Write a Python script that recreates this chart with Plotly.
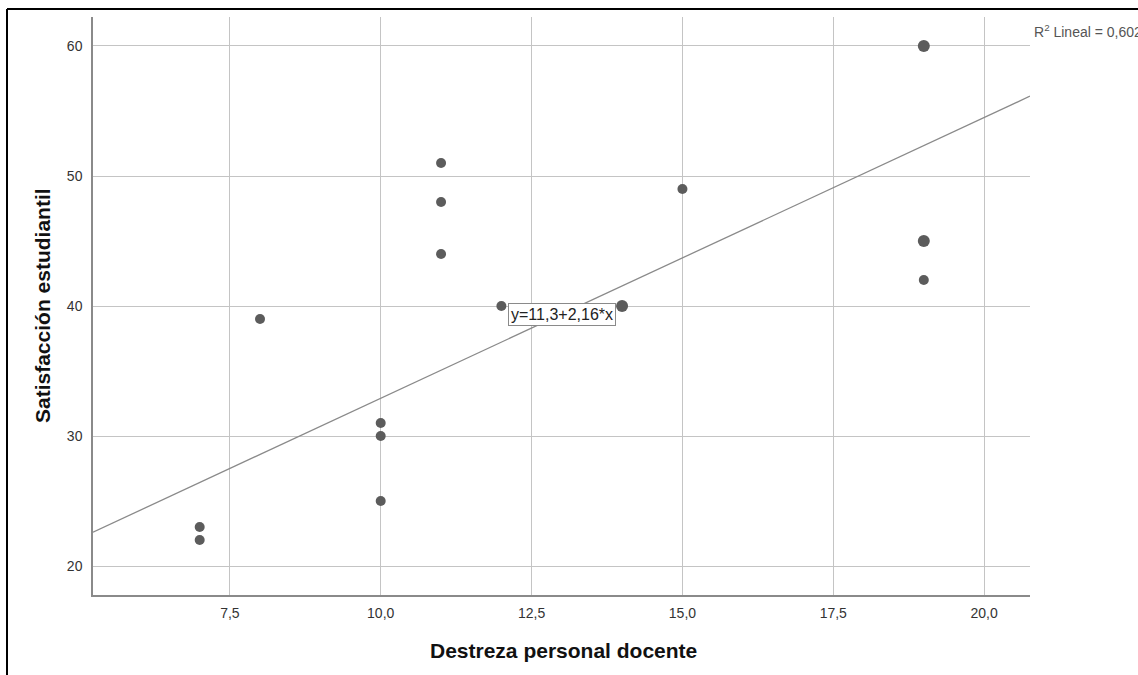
import plotly.graph_objects as go

# Data
destreza = [7, 7, 8, 10, 10, 10, 11, 11, 11, 12, 14, 15, 19, 19, 19]
satisfaccion = [23, 22, 39, 31, 30, 25, 51, 48, 44, 40, 40, 49, 60, 45, 42]
frecuencia = [1, 1, 1, 1, 1, 1, 1, 1, 1, 1, 2, 1, 2, 2, 1]
intercepto = 11.3
pendiente = 2.16
r2 = "0,602"
x_ticks = [7.5, 10.0, 12.5, 15.0, 17.5, 20.0]
y_ticks = [20, 30, 40, 50, 60]

W, H = 1138, 675
L, R, T, B = 93, 1030, 17, 595
x_range = [5.232, 20.76]
y_range = [17.77, 62.23]
FONT = "Arial, Liberation Sans, sans-serif"

def px(xp):
    return (xp - L) / (R - L)

def py(yp):
    return 1 - (yp - T) / (B - T)

fig = go.Figure()

# regression line across x range
lx = [x_range[0], x_range[1]]
ly = [intercepto + pendiente * v for v in lx]
fig.add_trace(go.Scatter(x=lx, y=ly, mode="lines",
                         line=dict(color="#8a8a8a", width=1.3),
                         hoverinfo="skip", showlegend=False))

fig.add_trace(go.Scatter(
    x=destreza, y=satisfaccion, mode="markers",
    marker=dict(color="#5c5c5c", opacity=1,
                size=[10 if f == 1 else 12 for f in frecuencia],
                line=dict(width=0)),
    showlegend=False))

lab_x = 13.0
fig.add_annotation(x=lab_x, y=intercepto + pendiente * lab_x, xref="x", yref="y",
                   text="y=11,3+2,16*x", showarrow=False,
                   font=dict(family=FONT, size=16, color="#222"),
                   bgcolor="white", bordercolor="#8a8a8a", borderwidth=1, borderpad=2)

fig.add_annotation(x=px(1032), y=py(31), xref="paper", yref="paper",
                   xanchor="left", yanchor="middle",
                   text="R<sup>2</sup> Lineal = " + r2, showarrow=False,
                   font=dict(family=FONT, size=14, color="#555"))

fig.add_annotation(x=px(42), y=py(306), xref="paper", yref="paper",
                   xanchor="center", yanchor="middle",
                   text="<b>Satisfacción estudiantil</b>", textangle=-90, showarrow=False,
                   font=dict(family=FONT, size=21, color="#111"))
fig.add_annotation(x=px(563), y=py(650), xref="paper", yref="paper",
                   xanchor="center", yanchor="middle",
                   text="<b>Destreza personal docente</b>", showarrow=False,
                   font=dict(family=FONT, size=21, color="#111"))

# outer frame (top and left visible)
fx, fy = px(7), py(9)
fig.add_shape(type="line", xref="paper", yref="paper", x0=fx, y0=fy, x1=px(W + 10), y1=fy,
              line=dict(color="black", width=2))
fig.add_shape(type="line", xref="paper", yref="paper", x0=fx, y0=fy, x1=fx, y1=py(H + 10),
              line=dict(color="black", width=2))

fig.update_layout(
    width=W, height=H,
    margin=dict(l=L, r=W - R, t=T, b=H - B),
    paper_bgcolor="white", plot_bgcolor="white",
    separators=",.",
    font=dict(family=FONT, size=14, color="#333"),
    xaxis=dict(range=x_range, tickvals=x_ticks, tickformat=".1f",
               showgrid=True, gridcolor="#c4c4c4", gridwidth=1,
               showline=True, linecolor="#8a8a8a", linewidth=1.5,
               zeroline=False, ticks="", ticklabelstandoff=4),
    yaxis=dict(range=y_range, tickvals=y_ticks,
               showgrid=True, gridcolor="#c4c4c4", gridwidth=1,
               showline=True, linecolor="#8a8a8a", linewidth=1.5,
               zeroline=False, ticks="", ticklabelstandoff=6),
)

fig.write_html("out.html", config={"displayModeBar": False},
               post_script="document.body.style.margin='0px';")
